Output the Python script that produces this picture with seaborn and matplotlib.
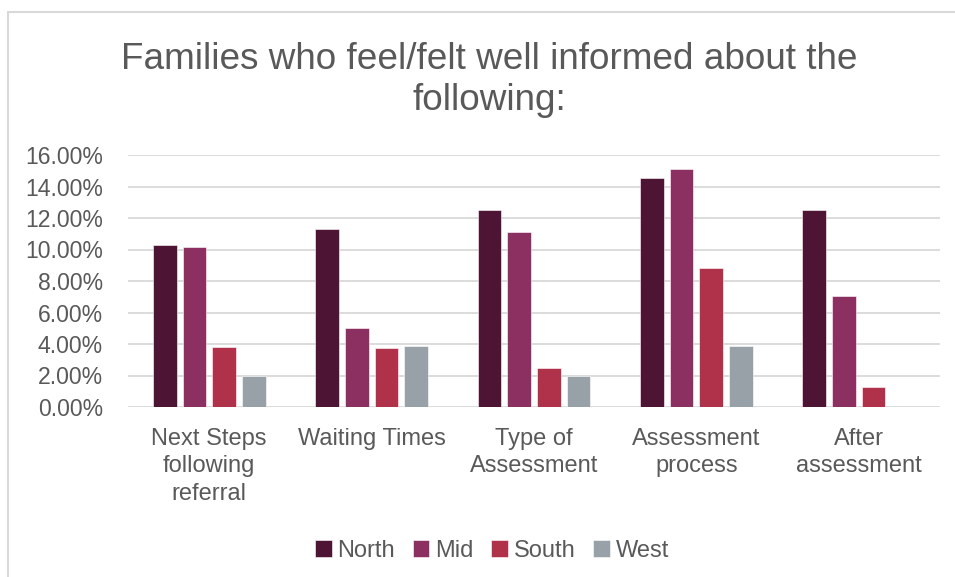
import matplotlib
matplotlib.use("Agg")
import matplotlib.pyplot as plt
import seaborn as sns
import pandas as pd
from matplotlib.lines import Line2D
from matplotlib.ticker import FuncFormatter

categories = ["Next Steps\nfollowing\nreferral", "Waiting Times", "Type of\nAssessment",
              "Assessment\nprocess", "After\nassessment"]
series_names = ["North", "Mid", "South", "West"]
north = [10.28, 11.32, 12.48, 14.55, 12.48]
mid = [10.17, 5.01, 11.10, 15.12, 7.05]
south = [3.78, 3.72, 2.46, 8.83, 1.24]
west = [1.94, 3.87, 1.94, 3.87, 0.0]
colors = ["#4E1433", "#8C2F61", "#B0324A", "#98A0A8"]
yticks = [0, 2, 4, 6, 8, 10, 12, 14, 16]

rows = []
for name, vals in zip(series_names, [north, mid, south, west]):
    for c, v in zip(categories, vals):
        rows.append({"category": c, "region": name, "value": v})
df = pd.DataFrame(rows)

sns.set_theme(style="white")
plt.rcParams["font.family"] = ["Liberation Sans", "DejaVu Sans"]
text_color = "#595959"

fig = plt.figure(figsize=(9.55, 5.77), dpi=100)
ax = fig.add_axes([128 / 955, (577 - 407) / 577, (940 - 128) / 955, (407 - 155) / 577])

sns.barplot(data=df, x="category", y="value", hue="region", order=categories,
            hue_order=series_names, palette=colors, saturation=1, width=0.73, gap=0.2,
            edgecolor="white", linewidth=0.4, ax=ax, legend=True)

ax.set_ylim(0, 16)
ax.set_yticks(yticks)
ax.yaxis.set_major_formatter(FuncFormatter(lambda v, p: f"{v:.2f}%"))
ax.grid(axis="y", color="#D9D9D9", linewidth=1.3)
ax.set_axisbelow(True)
for s in ax.spines.values():
    s.set_visible(False)
ax.set_xlabel("")
ax.set_ylabel("")
ax.tick_params(axis="both", length=0, colors=text_color)
ax.tick_params(axis="y", pad=18, labelsize=16.6)
ax.tick_params(axis="x", pad=15, labelsize=17)
for lab in ax.get_xticklabels():
    lab.set_linespacing(1.32)

leg = ax.legend(loc="center", bbox_to_anchor=(492 / 955, (577 - 551) / 577),
                bbox_transform=fig.transFigure, ncol=4, frameon=False,
                fontsize=17, handlelength=0.7, handleheight=0.7, handletextpad=0.25,
                columnspacing=0.75, labelcolor=text_color)

fig.text(489 / 955, 1 - 80 / 577, "Families who feel/felt well informed about the\nfollowing:",
         ha="center", va="center", fontsize=26.6, color=text_color, linespacing=1.22)

fig.add_artist(Line2D([8 / 955, 1], [1 - 12 / 577, 1 - 12 / 577], color="#D9D9D9",
                      linewidth=1.5, transform=fig.transFigure))
fig.add_artist(Line2D([8 / 955, 8 / 955], [0, 1 - 12 / 577], color="#D9D9D9",
                      linewidth=1.5, transform=fig.transFigure))

fig.savefig("out.png", dpi=100)
